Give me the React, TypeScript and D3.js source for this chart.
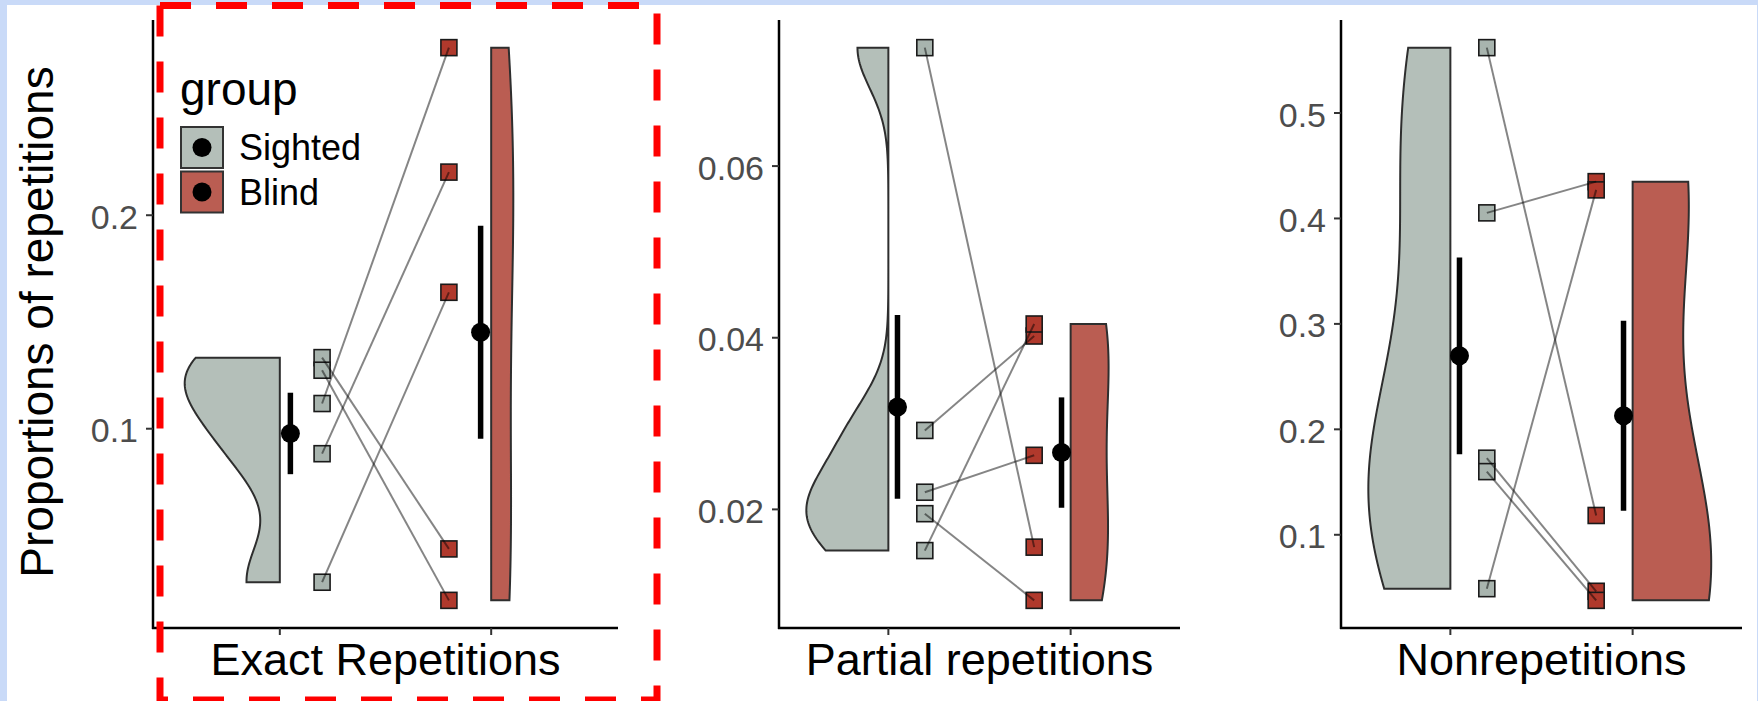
import React from "react";
import * as d3 from "d3";

const W = 1758;
const H = 701;

const groups = ["Sighted", "Blind"];
const panelTitles = ["Exact Repetitions", "Partial repetitions", "Nonrepetitions"];

// one value per participant, sighted[i] is joined to blind[i]
const exactSighted = [0.1333, 0.1274, 0.1118, 0.0883, 0.0281];
const exactBlind = [0.0437, 0.0196, 0.2785, 0.2202, 0.1639];
const partialSighted = [0.0738, 0.0292, 0.022, 0.0195, 0.0152];
const partialBlind = [0.0156, 0.0402, 0.0263, 0.0094, 0.0416];
const nonrepSighted = [0.562, 0.4053, 0.1726, 0.1599, 0.0489];
const nonrepBlind = [0.1183, 0.4349, 0.0464, 0.0378, 0.4271];

const exactTicks = [0.1, 0.2];
const partialTicks = [0.02, 0.04, 0.06];
const nonrepTicks = [0.1, 0.2, 0.3, 0.4, 0.5];

const FONT = "'Liberation Sans', Arial, sans-serif";
const violinFill = ["#b4bfb9", "#ba5d52"];
const pointFill = ["#a8b4ae", "#b0392c"];
const TOP = 20;
const BOTTOM = 628;

// R's bw.nrd0
function nrd0(v: number[]) {
  const s = [...v].sort(d3.ascending);
  const sd = d3.deviation(s) ?? 0;
  const iqr = ((d3.quantileSorted(s, 0.75) as number) - (d3.quantileSorted(s, 0.25) as number)) / 1.34;
  let lo = Math.min(sd, iqr);
  if (!(lo > 0)) lo = sd || 1;
  return 0.9 * lo * Math.pow(s.length, -0.2);
}

function density(v: number[], n = 256) {
  const bw = nrd0(v);
  const [lo, hi] = d3.extent(v) as [number, number];
  return d3.range(n).map((i) => {
    const y = lo + ((hi - lo) * i) / (n - 1);
    const d =
      (d3.mean(v, (x) => Math.exp(-0.5 * ((y - x) / bw) ** 2)) as number) /
      (bw * Math.sqrt(2 * Math.PI));
    return { y, d };
  });
}

const Panel = ({ x0, x1, sighted, blind, ticks, title }: any) => {
  const all = [...sighted, ...blind];
  const [mn, mx] = d3.extent(all) as [number, number];
  const pad = (mx - mn) * 0.05;
  const y = d3.scaleLinear().domain([mn - pad, mx + pad]).range([BOTTOM, TOP]);
  const x = d3.scalePoint<string>().domain(groups).range([x0, x1]).padding(0.6);
  const step = x.step();
  const sets = [sighted, blind];
  const dens = sets.map((s) => density(s));
  const maxD = d3.max(dens.flat(), (d) => d.d) as number;

  const violin = (i: number) => {
    const cx = x(groups[i]) as number;
    const dir = i === 0 ? -1 : 1;
    return d3
      .area<{ y: number; d: number }>()
      .y((d) => y(d.y))
      .x0(cx)
      .x1((d) => cx + (dir * 0.45 * step * d.d) / maxD)(dens[i]) as string;
  };

  const px = (i: number) => (x(groups[i]) as number) + (i === 0 ? 0.2 : -0.2) * step;
  const mx_ = (i: number) => (x(groups[i]) as number) + (i === 0 ? 0.05 : -0.05) * step;
  const sq = 16;

  return (
    <g>
      {/* violins */}
      {sets.map((_, i) => (
        <path key={"v" + i} d={violin(i)} fill={violinFill[i]} stroke="#2e2e2e" strokeWidth={2} />
      ))}
      {/* raw points */}
      {sets.map((s, i) =>
        s.map((v: number, j: number) => (
          <rect
            key={"p" + i + j}
            x={px(i) - sq / 2}
            y={y(v) - sq / 2}
            width={sq}
            height={sq}
            fill={pointFill[i]}
            stroke="#1a1a1a"
            strokeWidth={1.6}
          />
        ))
      )}
      {/* paired lines */}
      {sighted.map((v: number, j: number) => (
        <line
          key={"l" + j}
          x1={px(0)}
          y1={y(v)}
          x2={px(1)}
          y2={y(blind[j])}
          stroke="#000"
          strokeOpacity={0.48}
          strokeWidth={2}
        />
      ))}
      {/* mean +- se */}
      {sets.map((s, i) => {
        const m = d3.mean(s) as number;
        const se = (d3.deviation(s) as number) / Math.sqrt(s.length);
        return (
          <g key={"m" + i}>
            <line x1={mx_(i)} x2={mx_(i)} y1={y(m - se)} y2={y(m + se)} stroke="#000" strokeWidth={5.5} />
            <circle cx={mx_(i)} cy={y(m)} r={9.5} fill="#000" />
          </g>
        );
      })}
      {/* axes */}
      <line x1={x0} x2={x0} y1={TOP} y2={BOTTOM + 1} stroke="#000" strokeWidth={2.5} />
      <line x1={x0 - 1} x2={x1} y1={BOTTOM} y2={BOTTOM} stroke="#000" strokeWidth={2.5} />
      {ticks.map((t: number) => (
        <g key={"t" + t}>
          <line x1={x0 - 7} x2={x0} y1={y(t)} y2={y(t)} stroke="#333" strokeWidth={2} />
          <text
            x={x0 - 15}
            y={y(t)}
            dy="0.4em"
            textAnchor="end"
            fontSize={34}
            fill="#4d4d4d"
            fontFamily={FONT}
          >
            {String(t)}
          </text>
        </g>
      ))}
      {groups.map((g) => (
        <line key={"xt" + g} x1={x(g)} x2={x(g)} y1={BOTTOM} y2={BOTTOM + 7} stroke="#333" strokeWidth={2} />
      ))}
      <text x={(x0 + x1) / 2} y={675} textAnchor="middle" fontSize={45} fill="#000" fontFamily={FONT}>
        {title}
      </text>
    </g>
  );
};

const App = () => {
  const panels = [
    { x0: 153, x1: 618, sighted: exactSighted, blind: exactBlind, ticks: exactTicks },
    { x0: 779, x1: 1180, sighted: partialSighted, blind: partialBlind, ticks: partialTicks },
    { x0: 1341, x1: 1742, sighted: nonrepSighted, blind: nonrepBlind, ticks: nonrepTicks },
  ];
  const dash = { stroke: "#ff0000", strokeWidth: 7, strokeDasharray: "31 25" };
  return (
    <svg
      width={W}
      height={H}
      style={{ position: "absolute", left: 0, top: 0, display: "block" }}
    >
      <rect x={0} y={0} width={W} height={H} fill="#c9daf8" />
      <rect x={7} y={5} width={1750} height={H - 5} fill="#fff" />

      {panels.map((p, i) => (
        <Panel key={i} {...p} title={panelTitles[i]} />
      ))}

      <text
        transform="translate(53,322) rotate(-90)"
        textAnchor="middle"
        fontSize={46}
        fill="#000"
        fontFamily={FONT}
      >
        Proportions of repetitions
      </text>

      {/* legend */}
      <g fontFamily={FONT}>
        <text x={180} y={105} fontSize={46} fill="#000">
          group
        </text>
        {groups.map((g, i) => (
          <g key={g} transform={`translate(181,${127 + i * 44.5})`}>
            <rect width={42} height={41} fill={violinFill[i]} stroke="#333" strokeWidth={2} />
            <circle cx={21} cy={20.5} r={9.5} fill="#000" />
            <text x={58} y={20.5} dy="0.36em" fontSize={36} fill="#000">
              {g}
            </text>
          </g>
        ))}
      </g>

      {/* red dashed highlight box */}
      <line x1={160} y1={5.5} x2={657} y2={5.5} {...dash} />
      <line x1={160} y1={5.5} x2={160} y2={701} {...dash} />
      <line x1={657} y1={5.5} x2={657} y2={701} {...dash} strokeDashoffset={48} />
      <line x1={160} y1={700} x2={657} y2={700} {...dash} strokeDashoffset={23} />
    </svg>
  );
};

export default App;
